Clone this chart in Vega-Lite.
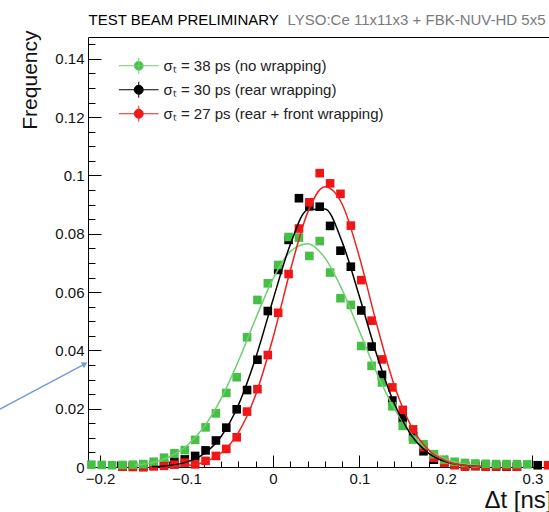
{
  "$schema": "https://vega.github.io/schema/vega-lite/v6.json",
  "autosize": "none",
  "width": 461,
  "height": 430,
  "padding": {"left": 88, "top": 37, "right": 0, "bottom": 45},
  "background": "white",
  "config": {"view": {"stroke": null}, "font": "Liberation Sans"},
  "datasets": {
    "hist": [
      {"s": "30", "x": -0.174, "y": 0.0002}, {"s": "30", "x": -0.162, "y": 0.0003}, {"s": "30", "x": -0.15, "y": 0.0}, {"s": "30", "x": -0.138, "y": 0.0005},
      {"s": "30", "x": -0.126, "y": 0.001}, {"s": "30", "x": -0.114, "y": 0.0018}, {"s": "30", "x": -0.102, "y": 0.0026}, {"s": "30", "x": -0.09, "y": 0.0038},
      {"s": "30", "x": -0.078, "y": 0.0057}, {"s": "30", "x": -0.066, "y": 0.0091}, {"s": "30", "x": -0.054, "y": 0.0135}, {"s": "30", "x": -0.042, "y": 0.0198},
      {"s": "30", "x": -0.03, "y": 0.0264}, {"s": "30", "x": -0.018, "y": 0.0368}, {"s": "30", "x": -0.006, "y": 0.0535}, {"s": "30", "x": 0.006, "y": 0.0676},
      {"s": "30", "x": 0.018, "y": 0.0779}, {"s": "30", "x": 0.03, "y": 0.0922}, {"s": "30", "x": 0.042, "y": 0.0895}, {"s": "30", "x": 0.054, "y": 0.0893},
      {"s": "30", "x": 0.066, "y": 0.0827}, {"s": "30", "x": 0.078, "y": 0.0742}, {"s": "30", "x": 0.09, "y": 0.0687}, {"s": "30", "x": 0.102, "y": 0.0537},
      {"s": "30", "x": 0.114, "y": 0.0413}, {"s": "30", "x": 0.126, "y": 0.0316}, {"s": "30", "x": 0.138, "y": 0.0228}, {"s": "30", "x": 0.15, "y": 0.0167},
      {"s": "30", "x": 0.162, "y": 0.0105}, {"s": "30", "x": 0.174, "y": 0.0054}, {"s": "30", "x": 0.186, "y": 0.0025}, {"s": "30", "x": 0.198, "y": 0.0015},
      {"s": "30", "x": 0.21, "y": 0.0008}, {"s": "30", "x": 0.222, "y": 0.0004}, {"s": "30", "x": 0.234, "y": 0.0003}, {"s": "30", "x": 0.246, "y": 0.0002},
      {"s": "30", "x": 0.258, "y": 0.0002}, {"s": "30", "x": 0.27, "y": 0.0001}, {"s": "30", "x": 0.282, "y": 0.0001}, {"s": "30", "x": 0.306, "y": 0.0006},
      {"s": "27", "x": -0.174, "y": 0.0001}, {"s": "27", "x": -0.162, "y": 0.0}, {"s": "27", "x": -0.15, "y": 0.0}, {"s": "27", "x": -0.138, "y": 0.0002},
      {"s": "27", "x": -0.126, "y": 0.0004}, {"s": "27", "x": -0.114, "y": 0.0008}, {"s": "27", "x": -0.102, "y": 0.0015}, {"s": "27", "x": -0.09, "y": 0.0009},
      {"s": "27", "x": -0.078, "y": 0.0021}, {"s": "27", "x": -0.066, "y": 0.0038}, {"s": "27", "x": -0.054, "y": 0.0062}, {"s": "27", "x": -0.042, "y": 0.0102},
      {"s": "27", "x": -0.03, "y": 0.019}, {"s": "27", "x": -0.018, "y": 0.0267}, {"s": "27", "x": -0.006, "y": 0.0384}, {"s": "27", "x": 0.006, "y": 0.0529},
      {"s": "27", "x": 0.018, "y": 0.0662}, {"s": "27", "x": 0.03, "y": 0.0818}, {"s": "27", "x": 0.042, "y": 0.0908}, {"s": "27", "x": 0.054, "y": 0.1008},
      {"s": "27", "x": 0.066, "y": 0.0973}, {"s": "27", "x": 0.078, "y": 0.0937}, {"s": "27", "x": 0.09, "y": 0.0828}, {"s": "27", "x": 0.102, "y": 0.0641},
      {"s": "27", "x": 0.114, "y": 0.0502}, {"s": "27", "x": 0.126, "y": 0.0369}, {"s": "27", "x": 0.138, "y": 0.0273}, {"s": "27", "x": 0.15, "y": 0.0196},
      {"s": "27", "x": 0.162, "y": 0.0129}, {"s": "27", "x": 0.174, "y": 0.0068}, {"s": "27", "x": 0.186, "y": 0.0032}, {"s": "27", "x": 0.198, "y": 0.0014},
      {"s": "27", "x": 0.21, "y": 0.0006}, {"s": "27", "x": 0.222, "y": 0.0001}, {"s": "27", "x": 0.234, "y": 0.0004}, {"s": "27", "x": 0.246, "y": 0.0001},
      {"s": "27", "x": 0.258, "y": 0.0003}, {"s": "27", "x": 0.27, "y": 0.0002}, {"s": "27", "x": 0.282, "y": 0.0001}, {"s": "27", "x": 0.318, "y": 0.0006},
      {"s": "38", "x": -0.21, "y": 0.0008}, {"s": "38", "x": -0.198, "y": 0.0007}, {"s": "38", "x": -0.186, "y": 0.0006}, {"s": "38", "x": -0.174, "y": 0.0007},
      {"s": "38", "x": -0.162, "y": 0.0008}, {"s": "38", "x": -0.15, "y": 0.001}, {"s": "38", "x": -0.138, "y": 0.0018}, {"s": "38", "x": -0.126, "y": 0.0032},
      {"s": "38", "x": -0.114, "y": 0.0047}, {"s": "38", "x": -0.102, "y": 0.0058}, {"s": "38", "x": -0.09, "y": 0.0093}, {"s": "38", "x": -0.078, "y": 0.0136},
      {"s": "38", "x": -0.066, "y": 0.0184}, {"s": "38", "x": -0.054, "y": 0.0254}, {"s": "38", "x": -0.042, "y": 0.0308}, {"s": "38", "x": -0.03, "y": 0.0445},
      {"s": "38", "x": -0.018, "y": 0.0573}, {"s": "38", "x": -0.006, "y": 0.063}, {"s": "38", "x": 0.006, "y": 0.0693}, {"s": "38", "x": 0.018, "y": 0.0789},
      {"s": "38", "x": 0.03, "y": 0.0787}, {"s": "38", "x": 0.042, "y": 0.0724}, {"s": "38", "x": 0.054, "y": 0.0775}, {"s": "38", "x": 0.066, "y": 0.0667},
      {"s": "38", "x": 0.078, "y": 0.0579}, {"s": "38", "x": 0.09, "y": 0.0556}, {"s": "38", "x": 0.102, "y": 0.0415}, {"s": "38", "x": 0.114, "y": 0.0347},
      {"s": "38", "x": 0.126, "y": 0.029}, {"s": "38", "x": 0.138, "y": 0.0208}, {"s": "38", "x": 0.15, "y": 0.0141}, {"s": "38", "x": 0.162, "y": 0.0094},
      {"s": "38", "x": 0.174, "y": 0.0078}, {"s": "38", "x": 0.186, "y": 0.0044}, {"s": "38", "x": 0.198, "y": 0.0025}, {"s": "38", "x": 0.21, "y": 0.0018},
      {"s": "38", "x": 0.222, "y": 0.0014}, {"s": "38", "x": 0.234, "y": 0.0012}, {"s": "38", "x": 0.246, "y": 0.0011}, {"s": "38", "x": 0.258, "y": 0.001},
      {"s": "38", "x": 0.27, "y": 0.001}, {"s": "38", "x": 0.282, "y": 0.001}, {"s": "38", "x": 0.294, "y": 0.0009}
    ],
    "fit": [
      {"s": "38", "x": -0.16, "y": 0.00058}, {"s": "38", "x": -0.14, "y": 0.00148}, {"s": "38", "x": -0.12, "y": 0.00344}, {"s": "38", "x": -0.1, "y": 0.00721},
      {"s": "38", "x": -0.08, "y": 0.01367}, {"s": "38", "x": -0.06, "y": 0.02345}, {"s": "38", "x": -0.04, "y": 0.03634}, {"s": "38", "x": -0.02, "y": 0.05094},
      {"s": "38", "x": 0.0, "y": 0.06455}, {"s": "38", "x": 0.02, "y": 0.07396}, {"s": "38", "x": 0.04, "y": 0.07661}, {"s": "38", "x": 0.06, "y": 0.07175},
      {"s": "38", "x": 0.08, "y": 0.06076}, {"s": "38", "x": 0.1, "y": 0.04652}, {"s": "38", "x": 0.12, "y": 0.03221}, {"s": "38", "x": 0.14, "y": 0.02016},
      {"s": "38", "x": 0.16, "y": 0.0114}, {"s": "38", "x": 0.18, "y": 0.00584}, {"s": "38", "x": 0.2, "y": 0.0027}, {"s": "38", "x": 0.22, "y": 0.00113},
      {"s": "38", "x": 0.24, "y": 0.00043},
      {"s": "30", "x": -0.14, "y": 0.00015}, {"s": "30", "x": -0.12, "y": 0.00054}, {"s": "30", "x": -0.1, "y": 0.00167}, {"s": "30", "x": -0.08, "y": 0.00449},
      {"s": "30", "x": -0.06, "y": 0.01048}, {"s": "30", "x": -0.04, "y": 0.02127}, {"s": "30", "x": -0.02, "y": 0.03749}, {"s": "30", "x": 0.0, "y": 0.05739},
      {"s": "30", "x": 0.02, "y": 0.07633}, {"s": "30", "x": 0.04, "y": 0.08817}, {"s": "30", "x": 0.06, "y": 0.08848}, {"s": "30", "x": 0.08, "y": 0.07714},
      {"s": "30", "x": 0.1, "y": 0.05841}, {"s": "30", "x": 0.12, "y": 0.03842}, {"s": "30", "x": 0.14, "y": 0.02195}, {"s": "30", "x": 0.16, "y": 0.0109},
      {"s": "30", "x": 0.18, "y": 0.0047}, {"s": "30", "x": 0.2, "y": 0.00176}, {"s": "30", "x": 0.22, "y": 0.00057}, {"s": "30", "x": 0.24, "y": 0.00016},
      {"s": "27", "x": -0.12, "y": 0.00012}, {"s": "27", "x": -0.1, "y": 0.00048}, {"s": "27", "x": -0.08, "y": 0.00165}, {"s": "27", "x": -0.06, "y": 0.00479},
      {"s": "27", "x": -0.04, "y": 0.0118}, {"s": "27", "x": -0.02, "y": 0.0248}, {"s": "27", "x": 0.0, "y": 0.04432}, {"s": "27", "x": 0.02, "y": 0.06741},
      {"s": "27", "x": 0.04, "y": 0.08725}, {"s": "27", "x": 0.06, "y": 0.09612}, {"s": "27", "x": 0.08, "y": 0.09012}, {"s": "27", "x": 0.1, "y": 0.0719},
      {"s": "27", "x": 0.12, "y": 0.04882}, {"s": "27", "x": 0.14, "y": 0.02822}, {"s": "27", "x": 0.16, "y": 0.01388}, {"s": "27", "x": 0.18, "y": 0.00581},
      {"s": "27", "x": 0.2, "y": 0.00207}, {"s": "27", "x": 0.22, "y": 0.00063}, {"s": "27", "x": 0.24, "y": 0.00016}
    ],
    "arrow": [{"x": -0.3156, "y": 0.0199, "x2": -0.2179, "y2": 0.0353}],
    "arrowhead": [{"x": -0.2175, "y": 0.0354}]
  },
  "layer": [
    {
      "data": {"name": "hist"},
      "mark": {"type": "point", "shape": "square", "filled": true, "size": 74, "opacity": 1},
      "encoding": {
        "x": {"field": "x", "type": "quantitative", "scale": {"domain": [-0.2139, 0.3191], "nice": false, "zero": false},
          "axis": {"orient": "bottom", "values": [-0.2, -0.1, 0, 0.1, 0.2, 0.3], "format": ".1~f", "tickSize": -12, "labelPadding": 16, "labelFontSize": 15, "labelColor": "#111", "labelFlush": false, "domainColor": "#000", "tickColor": "#000", "grid": false,
            "title": "Δt [ns]", "titleFontSize": 24, "titleFontWeight": "normal", "titleColor": "#111", "titleAnchor": "end", "titleAlign": "right", "titleBaseline": "alphabetic", "titleX": 464, "titleY": 40}},
        "y": {"field": "y", "type": "quantitative", "scale": {"domain": [0, 0.1475], "nice": false},
          "axis": {"orient": "left", "values": [0, 0.02, 0.04, 0.06, 0.08, 0.1, 0.12, 0.14], "format": ".2~f", "tickSize": -13, "labelPadding": 17, "labelFontSize": 15, "labelColor": "#111", "domainColor": "#000", "tickColor": "#000", "grid": false,
            "title": "Frequency", "titleFontSize": 21, "titleFontWeight": "normal", "titleColor": "#111", "titleAnchor": "end", "titleAngle": 270, "titleAlign": "right", "titleBaseline": "alphabetic", "titleX": -52, "titleY": -7}},
        "color": {"field": "s", "type": "nominal", "scale": {"domain": ["38", "30", "27"], "range": ["#46bf46", "#000000", "#f01414"]},
          "legend": {"orient": "none", "legendX": 36.75, "legendY": 14.75, "title": null, "padding": 0, "rowPadding": 0,
            "symbolType": "M-1.5,0H1.5M0,-0.6V0.6M0.34,0A0.34,0.34,0,1,1,-0.34,0A0.34,0.34,0,1,1,0.34,0Z", "symbolSize": 702, "symbolStrokeWidth": 1,
            "labelFontSize": 15, "labelColor": "#222", "labelOffset": 10.75, "labelLimit": 400,
            "labelExpr": "'σₜ = ' + datum.label + ' ps (' + (datum.label == '38' ? 'no wrapping' : datum.label == '30' ? 'rear wrapping' : 'rear + front wrapping') + ')'",
            "encode": {"symbols": {"update": {"stroke": {"scale": "color", "field": "value"}, "fill": {"scale": "color", "field": "value"}, "opacity": {"value": 1}}}}}}
      }
    },
    {
      "data": {"name": "fit"},
      "mark": {"type": "line", "interpolate": "monotone", "strokeWidth": 1.5},
      "encoding": {
        "x": {"field": "x", "type": "quantitative",
          "axis": {"orient": "bottom", "values": [-0.2, -0.18, -0.16, -0.14, -0.12, -0.1, -0.08, -0.06, -0.04, -0.02, 0, 0.02, 0.04, 0.06, 0.08, 0.1, 0.12, 0.14, 0.16, 0.18, 0.2, 0.22, 0.24, 0.26, 0.28, 0.3],
            "labels": false, "domain": false, "tickSize": -6, "tickColor": "#000", "grid": false, "title": null}},
        "y": {"field": "y", "type": "quantitative",
          "axis": {"orient": "left", "values": [0, 0.005, 0.01, 0.015, 0.02, 0.025, 0.03, 0.035, 0.04, 0.045, 0.05, 0.055, 0.06, 0.065, 0.07, 0.075, 0.08, 0.085, 0.09, 0.095, 0.1, 0.105, 0.11, 0.115, 0.12, 0.125, 0.13, 0.135, 0.14, 0.145],
            "labels": false, "domain": false, "tickSize": -7, "tickColor": "#000", "grid": false, "title": null}},
        "stroke": {"field": "s", "type": "nominal", "scale": {"domain": ["38", "30", "27"], "range": ["#6fcf6f", "#000000", "#f02020"]}, "legend": null},
        "detail": {"field": "s"}
      }
    },
    {
      "data": {"name": "arrow"},
      "mark": {"type": "rule", "color": "#6f9fd8", "strokeWidth": 1.5},
      "encoding": {
        "x": {"field": "x", "type": "quantitative",
          "axis": {"orient": "top", "labels": false, "ticks": false, "domain": true, "domainColor": "#000", "grid": false,
            "title": "LYSO:Ce 11x11x3 + FBK-NUV-HD 5x5", "titleFontSize": 15, "titleFontWeight": "normal", "titleColor": "#7a7a7a", "titleAnchor": "start", "titleAlign": "left", "titleBaseline": "alphabetic", "titleX": 199, "titleY": -13}},
        "y": {"field": "y", "type": "quantitative", "axis": null},
        "x2": {"field": "x2"},
        "y2": {"field": "y2"}
      }
    },
    {
      "data": {"name": "arrowhead"},
      "mark": {"type": "point", "shape": "triangle-right", "filled": true, "size": 45, "angle": -28, "color": "#6f9fd8", "opacity": 1},
      "encoding": {
        "x": {"field": "x", "type": "quantitative",
          "axis": {"orient": "top", "labels": false, "ticks": false, "domain": false, "grid": false,
            "title": "TEST BEAM PRELIMINARY", "titleFontSize": 15, "titleFontWeight": "normal", "titleColor": "#000", "titleAnchor": "start", "titleAlign": "left", "titleBaseline": "alphabetic", "titleX": 0, "titleY": -13}},
        "y": {"field": "y", "type": "quantitative", "axis": null}
      }
    }
  ],
  "resolve": {"axis": {"x": "independent", "y": "independent"}}
}
